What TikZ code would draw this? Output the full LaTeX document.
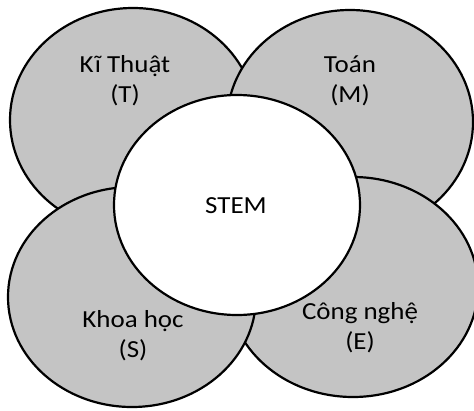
\documentclass[tikz,border=0pt]{standalone}
\usepackage{fontspec}
\setmainfont{Carlito}[FakeStretch=1.1]
\definecolor{petal}{RGB}{196,196,196}
\begin{document}
\begin{tikzpicture}[x=1pt,y=-1pt,
  petalshape/.style={draw=black,line width=2.2pt,fill=petal},
  coreshape/.style={draw=black,line width=2.2pt,fill=white},
  lbl/.style={font=\fontsize{24.5}{30}\selectfont,align=center,text=black,inner sep=0pt}]
\useasboundingbox (0,0) rectangle (474,410);
% petals, drawn in stacking order
\path[petalshape] (133,120) ellipse [x radius=123, y radius=112];
\path[petalshape] (350,122) ellipse [x radius=123, y radius=112];
\path[petalshape] (353,287) ellipse [x radius=125, y radius=110];
\path[petalshape] (132,297) ellipse [x radius=124, y radius=110];
% core
\path[coreshape] (237,205) ellipse [x radius=123, y radius=110];
% labels
\node[lbl] (kt) at (125,81) {Kĩ Thuật\\(T)};
\node[lbl] (toan) at (350,81) {Toán\\(M)};
\node[lbl] (stem) at (236,206) {STEM};
\node[lbl] (kh) at (133,336) {Khoa học\\(S)};
\node[lbl] (cn) at (360,328) {Công nghệ\\(E)};
\end{tikzpicture}
\end{document}
